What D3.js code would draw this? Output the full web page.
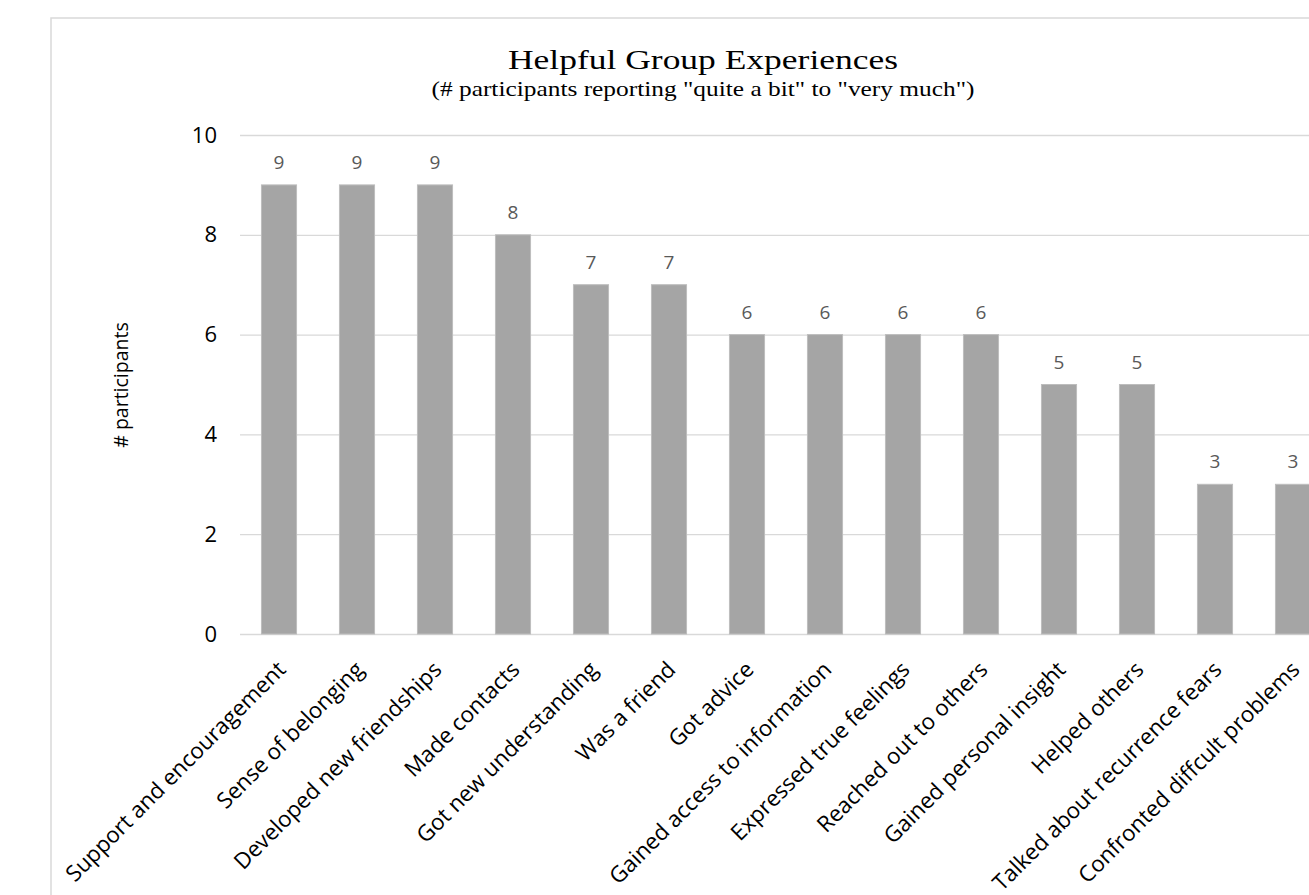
<!DOCTYPE html>
<html>
<head>
<meta charset="utf-8">
<script src="https://cdn.jsdelivr.net/npm/d3@7"></script>
<style>
  html, body { margin: 0; padding: 0; background: #fff; overflow: hidden; }
  svg { display: block; }
</style>
</head>
<body>
<svg id="chart" width="1309" height="895"></svg>
<script>
// Survey results: participants rating each group experience "quite a bit" to "very much"
const categories = [
  "Support and encouragement",
  "Sense of belonging",
  "Developed new friendships",
  "Made contacts",
  "Got new understanding",
  "Was a friend",
  "Got advice",
  "Gained access to information",
  "Expressed true feelings",
  "Reached out to others",
  "Gained personal insight",
  "Helped others",
  "Talked about recurrence fears",
  "Confronted diffcult problems"
];
const participants = [9, 9, 9, 8, 7, 7, 6, 6, 6, 6, 5, 5, 3, 3];
const yTicks = [0, 2, 4, 6, 8, 10];

const titleText = "Helpful Group Experiences";
const subtitleText = "(# participants reporting \"quite a bit\" to \"very much\")";
const yAxisTitle = "# participants";

const svg = d3.select("#chart");
const sans = "'Open Sans', 'Noto Sans', sans-serif";
const serif = "'Liberation Serif', 'DejaVu Serif', serif";

// chart area frame (continues past the right and bottom edges)
svg.append("rect")
  .attr("x", 51).attr("y", 18)
  .attr("width", 1400).attr("height", 1000)
  .attr("fill", "#fff")
  .attr("stroke", "#d9d9d9")
  .attr("stroke-width", 1.5);

const plotLeft = 240, plotRight = 1332, plotTop = 135, plotBottom = 634;

const x = d3.scaleBand()
  .domain(categories)
  .range([plotLeft, plotRight])
  .paddingInner(0.55)
  .paddingOuter(0.275);

const y = d3.scaleLinear()
  .domain([0, 10])
  .range([plotBottom, plotTop]);

// horizontal gridlines + value labels
const yAxis = d3.axisLeft(y)
  .tickValues(yTicks)
  .tickSize(-(plotRight - plotLeft))
  .tickPadding(23);

const gy = svg.append("g")
  .attr("transform", `translate(${plotLeft},0)`)
  .call(yAxis);
gy.select(".domain").remove();
gy.selectAll(".tick line")
  .attr("stroke", "#d9d9d9")
  .attr("stroke-width", 1.3);
gy.selectAll(".tick text")
  .attr("fill", "#000")
  .style("font-family", sans)
  .style("font-size", "22px");

// bars
svg.append("g")
  .selectAll("rect")
  .data(participants)
  .join("rect")
  .attr("x", (d, i) => x(categories[i]))
  .attr("y", d => y(d))
  .attr("width", x.bandwidth())
  .attr("height", d => y(0) - y(d))
  .attr("fill", "#a5a5a5")
  .attr("stroke", "#bdbdbd")
  .attr("stroke-width", 1);

// value labels above bars
svg.append("g")
  .selectAll("text")
  .data(participants)
  .join("text")
  .attr("x", (d, i) => x(categories[i]) + x.bandwidth() / 2)
  .attr("y", d => y(d) - 16)
  .attr("text-anchor", "middle")
  .attr("fill", "#595959")
  .style("font-family", sans)
  .style("font-size", "19px")
  .text(d => d);

// category axis: rotated labels
const xAxis = d3.axisBottom(x).tickSize(0).tickPadding(0);
const gx = svg.append("g")
  .attr("transform", `translate(0,${plotBottom})`)
  .call(xAxis);
gx.select(".domain").remove();
gx.selectAll(".tick text")
  .attr("fill", "#000")
  .attr("text-anchor", "end")
  .attr("dy", "0")
  .attr("transform", "translate(8,37) rotate(-45)")
  .style("font-family", sans)
  .style("font-size", "22.3px");

// y axis title
svg.append("text")
  .attr("transform", "translate(128,385) rotate(-90)")
  .attr("text-anchor", "middle")
  .attr("fill", "#000")
  .style("font-family", sans)
  .style("font-size", "19.5px")
  .text(yAxisTitle);

// titles
svg.append("text")
  .attr("x", 703).attr("y", 69)
  .attr("text-anchor", "middle")
  .attr("fill", "#000")
  .attr("textLength", 390)
  .attr("lengthAdjust", "spacingAndGlyphs")
  .style("font-family", serif)
  .style("font-size", "28px")
  .text(titleText);

svg.append("text")
  .attr("x", 703).attr("y", 96)
  .attr("text-anchor", "middle")
  .attr("fill", "#000")
  .attr("textLength", 543)
  .attr("lengthAdjust", "spacingAndGlyphs")
  .style("font-family", serif)
  .style("font-size", "21.5px")
  .text(subtitleText);
</script>
</body>
</html>
